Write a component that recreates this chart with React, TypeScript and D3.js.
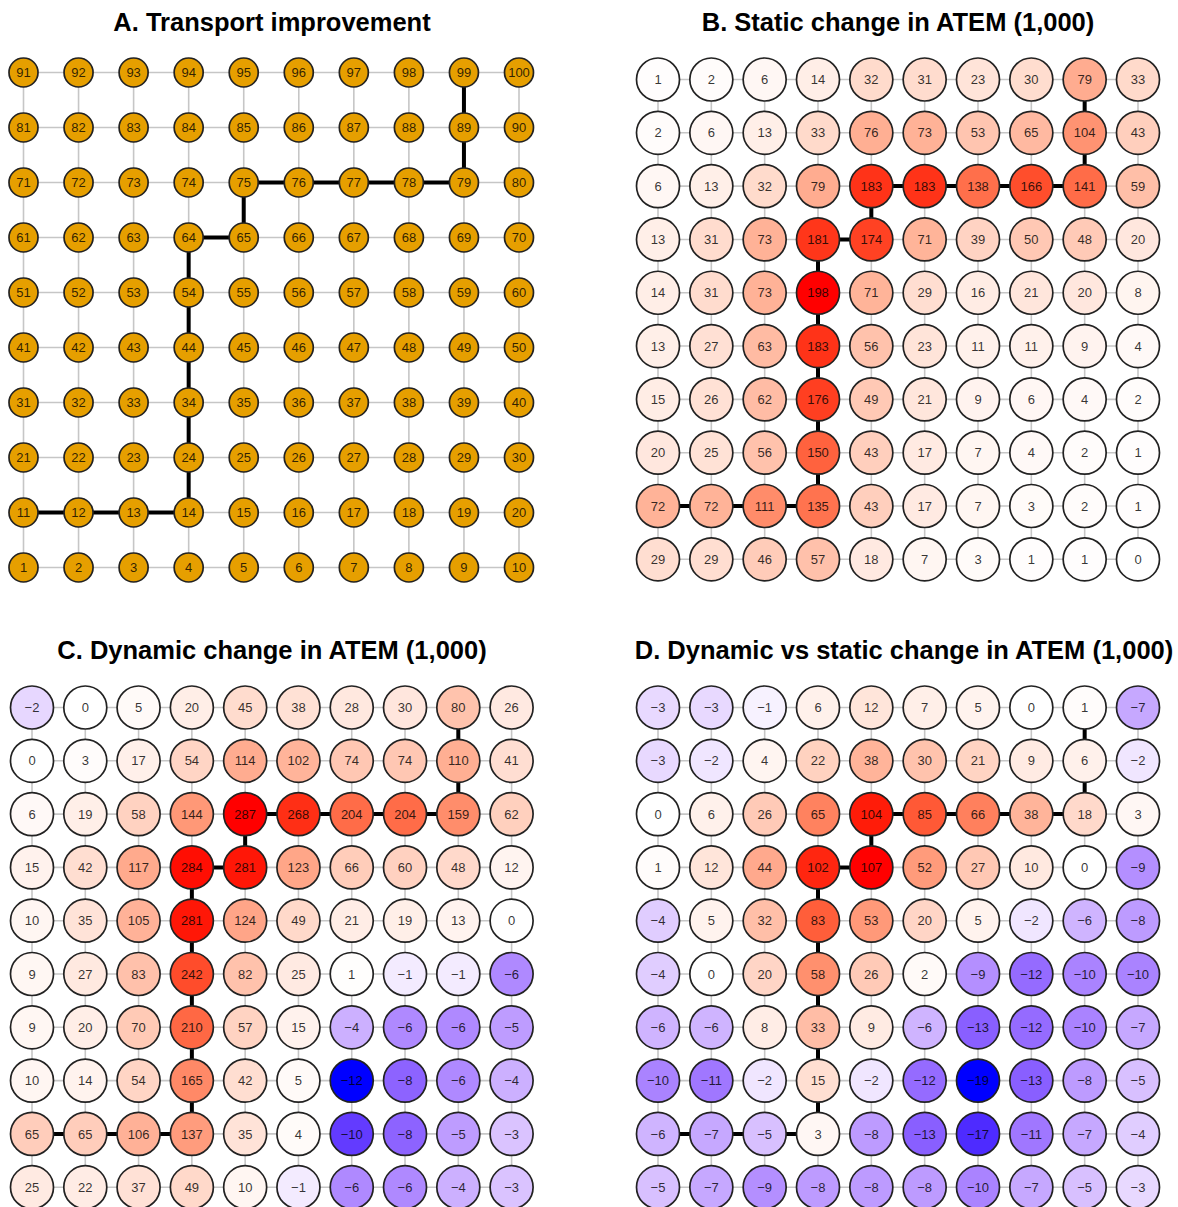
import React from "react";
import * as d3 from "d3";

// Node ids shown in panel A, rows listed from top (91..100) to bottom (1..10)
const nodeRows: number[][] = d3.range(9, -1, -1).map((r) => d3.range(1, 11).map((c) => r * 10 + c));

// Transport improvement route (node ids)
const route: number[] = [11, 12, 13, 14, 24, 34, 44, 54, 64, 65, 75, 76, 77, 78, 79, 89, 99];

// B. Static change in ATEM (1,000), rows top -> bottom
const staticChange: number[][] = [
  [1, 2, 6, 14, 32, 31, 23, 30, 79, 33],
  [2, 6, 13, 33, 76, 73, 53, 65, 104, 43],
  [6, 13, 32, 79, 183, 183, 138, 166, 141, 59],
  [13, 31, 73, 181, 174, 71, 39, 50, 48, 20],
  [14, 31, 73, 198, 71, 29, 16, 21, 20, 8],
  [13, 27, 63, 183, 56, 23, 11, 11, 9, 4],
  [15, 26, 62, 176, 49, 21, 9, 6, 4, 2],
  [20, 25, 56, 150, 43, 17, 7, 4, 2, 1],
  [72, 72, 111, 135, 43, 17, 7, 3, 2, 1],
  [29, 29, 46, 57, 18, 7, 3, 1, 1, 0],
];

// C. Dynamic change in ATEM (1,000)
const dynamicChange: number[][] = [
  [-2, 0, 5, 20, 45, 38, 28, 30, 80, 26],
  [0, 3, 17, 54, 114, 102, 74, 74, 110, 41],
  [6, 19, 58, 144, 287, 268, 204, 204, 159, 62],
  [15, 42, 117, 284, 281, 123, 66, 60, 48, 12],
  [10, 35, 105, 281, 124, 49, 21, 19, 13, 0],
  [9, 27, 83, 242, 82, 25, 1, -1, -1, -6],
  [9, 20, 70, 210, 57, 15, -4, -6, -6, -5],
  [10, 14, 54, 165, 42, 5, -12, -8, -6, -4],
  [65, 65, 106, 137, 35, 4, -10, -8, -5, -3],
  [25, 22, 37, 49, 10, -1, -6, -6, -4, -3],
];

// D. Dynamic vs static change in ATEM (1,000)
const dynVsStatic: number[][] = [
  [-3, -3, -1, 6, 12, 7, 5, 0, 1, -7],
  [-3, -2, 4, 22, 38, 30, 21, 9, 6, -2],
  [0, 6, 26, 65, 104, 85, 66, 38, 18, 3],
  [1, 12, 44, 102, 107, 52, 27, 10, 0, -9],
  [-4, 5, 32, 83, 53, 20, 5, -2, -6, -8],
  [-4, 0, 20, 58, 26, 2, -9, -12, -10, -10],
  [-6, -6, 8, 33, 9, -6, -13, -12, -10, -7],
  [-10, -11, -2, 15, -2, -12, -19, -13, -8, -5],
  [-6, -7, -5, 3, -8, -13, -17, -11, -7, -4],
  [-5, -7, -9, -8, -8, -8, -10, -7, -5, -3],
];

const titles = [
  "A. Transport improvement",
  "B. Static change in ATEM (1,000)",
  "C. Dynamic change in ATEM (1,000)",
  "D. Dynamic vs static change in ATEM (1,000)",
];

const FONT = "'Liberation Sans', Arial, Helvetica, sans-serif";

type PanelSpec = {
  title: string;
  values: number[][] | null;
  x0: number; x1: number; y0: number; y1: number;
  r: number;
  titleX: number; titleY: number;
};

const panels: PanelSpec[] = [
  { title: titles[0], values: null, x0: 23.5, x1: 519, y0: 72.5, y1: 567.5, r: 14.5, titleX: 272, titleY: 31 },
  { title: titles[1], values: staticChange, x0: 658, x1: 1138, y0: 79.5, y1: 559.3, r: 21.5, titleX: 898, titleY: 31 },
  { title: titles[2], values: dynamicChange, x0: 32, x1: 511.6, y0: 707.5, y1: 1187.2, r: 21.5, titleX: 272, titleY: 658.5 },
  { title: titles[3], values: dynVsStatic, x0: 658, x1: 1138, y0: 707.5, y1: 1187.2, r: 21.5, titleX: 904, titleY: 658.5 },
];

const posOf = (id: number) => ({ col: (id - 1) % 10, row: 9 - Math.floor((id - 1) / 10) });

const fmt = (v: number) => (v < 0 ? "\u2212" + Math.abs(Math.round(v)) : String(Math.round(v)));

function Panel({ p }: { p: PanelSpec }) {
  const x = d3.scaleLinear().domain([0, 9]).range([p.x0, p.x1]);
  const y = d3.scaleLinear().domain([0, 9]).range([p.y0, p.y1]);
  const flat = p.values ? p.values.flat() : [0];
  const vmax = d3.max(flat) as number;
  const vmin = d3.min(flat) as number;
  const red = d3.interpolateLab("#ffffff", "#ff0000");
  const blue = d3.interpolateLab("#ffffff", "#0000ff");
  const color = (v: number) => {
    if (v >= 0) return vmax > 0 ? red(Math.pow(v / vmax, 0.9)) : "#ffffff";
    return vmin < 0 ? blue(v / vmin) : "#ffffff";
  };

  const gridEdges: [number, number, number, number][] = [];
  for (let r = 0; r < 10; r++) {
    for (let c = 0; c < 10; c++) {
      if (c < 9) gridEdges.push([c, r, c + 1, r]);
      if (r < 9) gridEdges.push([c, r, c, r + 1]);
    }
  }
  const routeLine = d3
    .line<number>()
    .x((id) => x(posOf(id).col))
    .y((id) => y(posOf(id).row));

  return (
    <g>
      <text x={p.titleX} y={p.titleY} textAnchor="middle" fontFamily={FONT} fontWeight="bold" fontSize={25.5} fill="#000">
        {p.title}
      </text>
      <g stroke="#c6c6c6" strokeWidth={1.6}>
        {gridEdges.map(([c1, r1, c2, r2], i) => (
          <line key={i} x1={x(c1)} y1={y(r1)} x2={x(c2)} y2={y(r2)} />
        ))}
      </g>
      <path d={routeLine(route) || ""} fill="none" stroke="#000" strokeWidth={4} strokeLinejoin="miter" />
      {nodeRows.map((ids, r) =>
        ids.map((id, c) => {
          const v = p.values ? p.values[r][c] : id;
          const fill = p.values ? color(v) : "#E69F00";
          return (
            <g key={id} transform={`translate(${x(c)},${y(r)})`}>
              <circle r={p.r} fill={fill} stroke="#222" strokeWidth={1.7} />
              <text
                textAnchor="middle"
                dy="0.36em"
                fontFamily={FONT}
                fontSize={13}
                fill="#000"
                fillOpacity={0.8}
              >
                {p.values ? fmt(v) : String(id)}
              </text>
            </g>
          );
        })
      )}
    </g>
  );
}

export default function App() {
  return (
    <div style={{ position: "absolute", left: 0, top: 0 }}>
      <svg width={1178} height={1207} style={{ display: "block", background: "#fff" }}>
        <rect width={1178} height={1207} fill="#fff" />
        {panels.map((p, i) => (
          <Panel key={i} p={p} />
        ))}
      </svg>
    </div>
  );
}
